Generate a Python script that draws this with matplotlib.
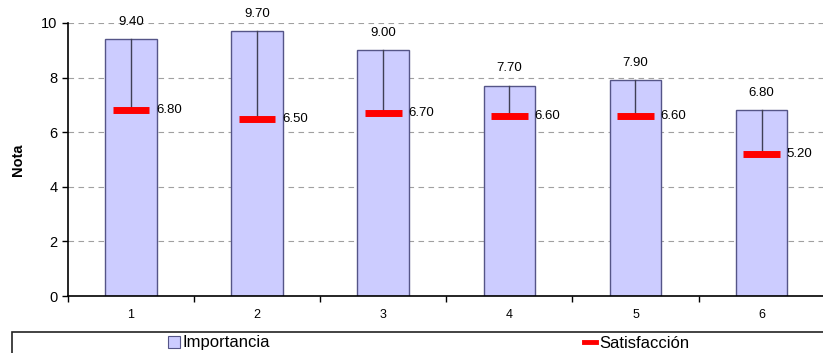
import matplotlib
matplotlib.use("Agg")
import matplotlib.pyplot as plt
from matplotlib.patches import Rectangle
from matplotlib.lines import Line2D

categories = ["1", "2", "3", "4", "5", "6"]
importancia = [9.40, 9.70, 9.00, 7.70, 7.90, 6.80]
satisfaccion = [6.80, 6.50, 6.70, 6.60, 6.60, 5.20]

plt.rcParams['font.family'] = ['Liberation Sans', 'DejaVu Sans']

fig = plt.figure(figsize=(8.23, 3.53), dpi=100)
ax = fig.add_axes([68 / 823, 1 - 296 / 353, 1 - 68 / 823 + 0.002, (296 - 23) / 353])

x = list(range(len(categories)))
bar_w = 0.41
ax.bar(x, importancia, width=bar_w, color='#ccccff', edgecolor='#555588',
       linewidth=1.0, zorder=2)

# line from satisfaction up to importance
for xi, lo, hi in zip(x, satisfaccion, importancia):
    ax.plot([xi, xi], [lo, hi], color='#404055', linewidth=1.0, zorder=3)

# satisfaction markers
ax.errorbar(x, satisfaccion, xerr=0.145, fmt='none', ecolor='#ff0000',
            elinewidth=5.0, capsize=0, zorder=4)

for xi, v in zip(x, importancia):
    ax.text(xi, v + 0.42, f"{v:.2f}", ha='center', va='bottom', fontsize=9.5)
for xi, v in zip(x, satisfaccion):
    ax.text(xi + bar_w / 2 - 0.005, v, f"{v:.2f}", ha='left', va='center', fontsize=9.5)

ax.set_xlim(-0.5, len(categories) - 0.5)
ax.set_ylim(0, 10)
ax.set_yticks([0, 2, 4, 6, 8, 10])
ax.set_xticks(x)
ax.set_xticklabels(categories)
ax.set_xticks([i - 0.5 for i in range(len(categories) + 1)], minor=True)
ax.tick_params(axis='x', which='major', length=0, pad=9, labelsize=9)
ax.tick_params(axis='x', which='minor', length=4, direction='out', width=1)
ax.tick_params(axis='y', length=4, direction='out', width=1, labelsize=10.5)

ax.yaxis.grid(True, linestyle=(0, (5, 4)), color='#a0a0a0', linewidth=0.8, zorder=0)
ax.set_axisbelow(True)
for s in ['top', 'right']:
    ax.spines[s].set_visible(False)
ax.spines['left'].set_linewidth(1.2)
ax.spines['bottom'].set_linewidth(1.2)

ax.set_ylabel("Nota", fontsize=10.5, fontweight='bold', labelpad=12)

# legend box
fig.add_artist(Rectangle((12 / 823, -0.01), 1.0, (353 - 332) / 353 + 0.01,
                         transform=fig.transFigure, fill=False,
                         edgecolor='#222222', linewidth=1.2))
h1 = Rectangle((0, 0), 1, 1, facecolor='#ccccff', edgecolor='#555588', linewidth=0.8)
h2 = Line2D([0], [0], color='#ff0000', linewidth=3.5)
fig.legend([h1, h2], ["Importancia", "Satisfacción"], ncol=2,
           loc='center left', bbox_to_anchor=(168 / 823, 1 - 343 / 353),
           frameon=False, fontsize=12, handlelength=0.7, handleheight=0.7,
           handletextpad=0.2, columnspacing=18.8, borderpad=0, borderaxespad=0)

fig.savefig("out.png", dpi=100)
